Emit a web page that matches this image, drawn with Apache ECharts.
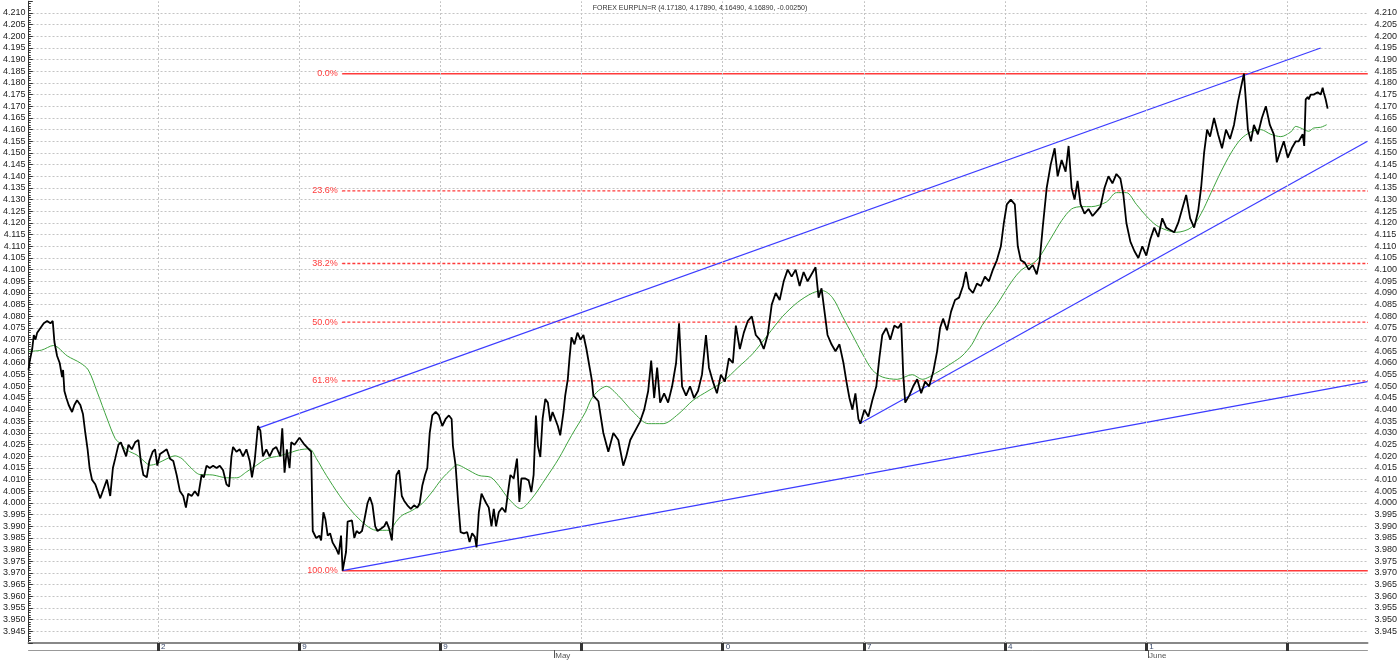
<!DOCTYPE html>
<html><head><meta charset="utf-8">
<script src="https://cdn.jsdelivr.net/npm/echarts@6/dist/echarts.min.js"></script>
<style>html,body{margin:0;padding:0;background:#fff}#c{width:1400px;height:660px}</style>
</head><body><div id="c"></div>
<script>
// time index (bar number) along x, week tick positions and labels
const weekTicks = [130, 271.7, 413.4, 555.1, 696.8, 838.5, 980.2, 1121.9, 1263.6];
const weekLabels = ['2', '9', '9', '', '0', '7', '4', '1', ''];
const monthTicks = [527.7, 1123.7];
const monthLabels = ['May', 'June'];
const titleText = 'FOREX EURPLN=R (4.17180, 4.17890, 4.16490, 4.16890, -0.00250)';

// price: [bar index, close]
const pricePts = [
[0,4.057],[1.3,4.061],[3.7,4.066],[5.3,4.072],[7,4.070],[8.7,4.073],[12,4.075],[15.3,4.077],[18.7,4.078],[22,4.077],[24.3,4.078],[26,4.069],[28.7,4.063],[31.3,4.060],[33.7,4.054],[34.7,4.057],[36,4.048],[38,4.045],[40.3,4.042],[43.7,4.039],[46,4.042],[48.7,4.044],[52,4.042],[54.7,4.038],[57,4.030],[59.3,4.023],[61.3,4.015],[63.7,4.010],[67,4.008],[70.3,4.004],[72,4.002],[75.3,4.006],[78.7,4.010],[82,4.003],[84.7,4.015],[87,4.019],[90.3,4.025],[92.7,4.026],[95.3,4.023],[98,4.020],[100.3,4.025],[103.7,4.023],[107,4.026],[110.3,4.027],[112.7,4.018],[115.3,4.012],[118.7,4.011],[121.3,4.018],[124.7,4.022],[127,4.023],[129.3,4.016],[132,4.021],[135.3,4.022],[138.7,4.023],[142,4.019],[145.3,4.018],[148.7,4.012],[152,4.005],[155.3,4.003],[158,3.998],[160.3,4.004],[163.7,4.003],[167,4.005],[170.3,4.003],[173.7,4.012],[176,4.011],[178.7,4.016],[182,4.015],[185.3,4.016],[188.7,4.015],[192,4.016],[195.3,4.014],[198.7,4.008],[201.3,4.007],[203.7,4.020],[205.3,4.024],[208.7,4.022],[212,4.023],[215.3,4.020],[218.7,4.023],[222,4.018],[224.3,4.011],[227,4.018],[230.3,4.033],[232.7,4.031],[235.3,4.020],[238.7,4.023],[242,4.020],[245.3,4.023],[248.7,4.024],[252.7,4.020],[254.7,4.032],[257,4.013],[259.3,4.023],[262,4.015],[263.7,4.026],[267,4.025],[270.3,4.027],[272,4.028],
[277,4.025],[283.7,4.022],[285.3,3.988],[288.7,3.985],[292,3.986],[293.7,3.984],[296,3.996],[298,3.993],[300.3,3.986],[302.7,3.987],[305.3,3.983],[308.7,3.9805],[311.3,3.978],[313.7,3.986],[315.3,3.971],[317,3.971],[318.7,3.979],[320.3,3.992],[322,3.992],[324.7,3.9925],[327,3.985],[329.3,3.988],[332,3.987],[334.7,3.988],[337,3.9925],[340.3,4.000],[342.7,4.0025],[345.3,3.999],[348,3.990],[350.3,3.988],[353.7,3.989],[357,3.990],[359.3,3.992],[362,3.989],[364.7,3.984],[367,3.999],[369.3,4.012],[372,4.014],[374.7,4.003],[377,4.001],[380.3,3.999],[383.7,3.9975],[387,3.999],[390.3,3.998],[392.7,4.000],[395.3,4.0075],[398,4.012],[400.3,4.015],[402.7,4.030],[405.3,4.0375],[408.7,4.039],[412,4.0375],[415.3,4.033],[418.7,4.036],[422,4.0375],[424.7,4.036],[426,4.0245],[428.7,4.016],[431.3,4.000],[433.7,3.9875],[437,3.987],[440.3,3.9875],[442.7,3.9833],[445.3,3.987],[448,3.9855],[449.7,3.981],[452,3.996],[454.7,4.004],[457,4.002],[459.3,4.000],[462,3.998],[464.7,3.990],[467,3.9975],[469.3,3.990],[472,3.996],[475.3,3.998],[478.7,3.996],[481.3,4.0047],[483.7,4.012],[487,4.0105],[490.3,4.019],[492.7,4.0005],[494.7,4.0105],[498.7,4.0105],[502,4.0097],[504.7,4.0047],[507,4.012],[509.3,4.0375],[511.3,4.0245],[513.7,4.0197],[516,4.036],[518.7,4.0445],[521.3,4.043],[523.7,4.035],[526,4.039],[528.7,4.036],[531.3,4.033],[533.7,4.029],[537,4.039],[538.7,4.046],[541.3,4.053],[543,4.062],[545,4.071],[548,4.068],[551,4.073],[554,4.070],[557,4.072],[560,4.066],[565.3,4.053],[567,4.046],[572,4.0436],
[577,4.030],[582,4.022],[587,4.030],[592,4.027],[597,4.016],[600,4.020],[604,4.027],[609,4.031],[614,4.035],[618,4.040],[622,4.048],[625,4.061],[628,4.045],[631,4.058],[634,4.043],[638,4.047],[642,4.043],[646,4.050],[650,4.060],[653,4.077],[656,4.050],[660,4.046],[664,4.050],[668,4.045],[672,4.048],[676,4.055],[680,4.072],[683,4.058],[687,4.052],[691,4.047],[695,4.055],[699,4.052],[703,4.062],[707,4.060],[710,4.076],[714,4.066],[718,4.073],[722,4.078],[726,4.080],[730,4.072],[734,4.070],[738,4.066],[742,4.072],[746,4.085],[750,4.090],[754,4.087],[758,4.095],[762,4.100],[766,4.097],[770,4.100],[774,4.093],[778,4.099],[782,4.095],[786,4.098],[790,4.101],[793,4.088],[796,4.092],[799,4.082],[802,4.072],[806,4.068],[810,4.065],[814,4.068],[818,4.060],[821,4.052],[824,4.045],[827,4.040],[830,4.047],[833,4.036],[835,4.034],[839,4.040],[843,4.037],[847,4.044],[851,4.050],[854,4.062],[857,4.072],[861,4.075],[865,4.070],[869,4.076],[873,4.075],[876,4.077],[878,4.055],[880,4.043],[884,4.046],[888,4.050],[892,4.053],[896,4.047],[900,4.052],[904,4.050],[908,4.056],[912,4.065],[915,4.075],[918,4.079],[922,4.074],[926,4.082],[930,4.087],[934,4.088],[938,4.093],[941,4.099],[944,4.092],[948,4.090],[952,4.094],[956,4.093],[960,4.097],[964,4.095],[968,4.100],[972,4.104],[976,4.110],[979,4.120],[982,4.128],[986,4.130],[990,4.128],[993,4.110],[996,4.104],[1000,4.103],[1004,4.100],[1008,4.102],[1012,4.098],[1015,4.104],[1018,4.118],[1022,4.135],[1026,4.145],[1030,4.152],[1033,4.140],[1037,4.147],[1041,4.142],[1044,4.153],[1047,4.135],[1050,4.130],[1053,4.138],[1056,4.128],[1060,4.124],[1064,4.126],[1068,4.123],[1072,4.125],[1076,4.127],[1080,4.135],[1084,4.140],[1088,4.137],[1092,4.141],[1096,4.139],[1099,4.132],[1102,4.120],[1106,4.112],[1110,4.108],[1114,4.105],[1118,4.110],[1122,4.106],[1126,4.113],[1130,4.118],[1134,4.114],[1138,4.122],[1142,4.118],[1146,4.117],[1150,4.116],[1154,4.120],[1158,4.126],[1162,4.132],[1166,4.122],[1170,4.118],[1174,4.125],[1177,4.135],[1180,4.150],[1183,4.160],[1186,4.157],[1190,4.165],[1194,4.158],[1198,4.152],[1202,4.160],[1206,4.156],[1210,4.162],[1214,4.172],[1217,4.178],[1220,4.184],[1222,4.172],[1224,4.160],[1227,4.155],[1230,4.162],[1234,4.158],[1238,4.165],[1242,4.170],[1246,4.162],[1250,4.158],[1253,4.146],[1256,4.150],[1260,4.155],[1264,4.148],[1268,4.152],[1272,4.155],[1275,4.155],[1279,4.158],[1280.5,4.153],[1282,4.173],[1284,4.174],[1285,4.173],[1287,4.175],[1290,4.175],[1294,4.176],[1297,4.175],[1299,4.178],[1300,4.176],[1302,4.173],[1304,4.169]
];

// moving average: [bar index, value]
const maPts = [
[0,4.065],[13,4.0655],[25,4.0675],[39,4.063],[52,4.060],[60,4.057],[69,4.0475],[79,4.036],[87,4.0276],[92,4.0255],[99,4.0226],[109,4.0205],[115,4.0183],[122,4.0162],[129,4.0169],[139,4.019],[147,4.0202],[154,4.019],[162,4.0155],[172,4.0122],[185,4.012],[199,4.0108],[209,4.0108],[219,4.0134],[229,4.0162],[239,4.019],[252,4.0202],[265,4.0219],[272,4.0228],[282,4.0232],[289,4.019],[299,4.0118],[312,4.0033],[325,3.9962],[339,3.9904],[349,3.9883],[362,3.9883],[369,3.992],[375,3.9947],[385,3.9968],[395,3.9997],[405,4.0047],[415,4.0104],[425,4.0147],[430,4.0164],[439,4.0147],[452,4.0118],[464,4.011],[472,4.0075],[482,4.0018],[494,3.9976],[505,4.0018],[519,4.0104],[532,4.0189],[545,4.0289],[559,4.0389],[565,4.0446],[572,4.0481],
[580,4.050],[592,4.046],[607,4.039],[622,4.034],[637,4.034],[652,4.038],[667,4.044],[682,4.048],[697,4.052],[712,4.058],[727,4.064],[742,4.072],[757,4.080],[772,4.086],[787,4.090],[797,4.091],[807,4.088],[817,4.080],[827,4.072],[837,4.064],[847,4.057],[857,4.054],[872,4.053],[887,4.055],[897,4.053],[912,4.056],[927,4.060],[937,4.063],[947,4.068],[957,4.076],[972,4.085],[987,4.095],[997,4.100],[1012,4.104],[1027,4.114],[1037,4.121],[1047,4.126],[1057,4.127],[1067,4.127],[1082,4.129],[1092,4.133],[1102,4.133],[1112,4.128],[1122,4.123],[1132,4.119],[1142,4.117],[1152,4.116],[1167,4.118],[1177,4.124],[1187,4.133],[1197,4.142],[1207,4.150],[1217,4.156],[1227,4.159],[1237,4.160],[1247,4.158],[1257,4.157],[1267,4.159],[1272,4.1614],[1277,4.1607],[1285,4.1593],[1290,4.1607],[1297,4.161],[1303,4.1621]
];

// drawn trend lines: [[x0,y0],[x1,y1]]
const channelUpper = [[230, 4.032], [1297, 4.195]];
const channelLower = [[315, 3.971], [1344, 4.052]];
const supportLine = [[834, 4.034], [1344, 4.155]];

// Fibonacci retracement
const fibHigh = 4.184, fibLow = 3.971;
const fibLevels = [0, 23.6, 38.2, 50, 61.8, 100];
const fibStart = 315, fibEnd = 1344;

const chart = echarts.init(document.getElementById('c'), null, {renderer: 'canvas'});
const FONT = 'Liberation Sans, Arial, sans-serif';
const RED = '#ff3b3b', BLUE = '#3c3cff';
const gridDash = {color: '#c4c4c4', width: 1, type: [2, 2]};

const fibSeries = fibLevels.map(l => {
  const v = fibHigh - l / 100 * (fibHigh - fibLow);
  const solid = (l === 0 || l === 100);
  return {
    type: 'line', xAxisIndex: 0, yAxisIndex: 0, z: 2, silent: true,
    symbol: 'circle', symbolSize: 1, showSymbol: true,
    itemStyle: {color: RED},
    lineStyle: {color: RED, width: solid ? 1.5 : 1.3, type: solid ? 'solid' : [3, 2]},
    data: [
      {value: [fibStart, v], label: {show: true, position: 'left', distance: 4, formatter: l.toFixed(1) + '%', color: RED, fontSize: 9, fontFamily: FONT}},
      {value: [fibEnd, v], label: {show: false}}
    ]
  };
});

const trend = pts => ({type: 'line', z: 3, silent: true, showSymbol: false, symbol: 'none',
  lineStyle: {color: BLUE, width: 1.2}, data: pts});

const yFmt = v => (Math.abs(v - 3.94) < 1e-6 || Math.abs(v - 4.215) < 1e-6) ? '' : v.toFixed(3);
const yBase = {
  type: 'value', min: 3.940, max: 4.215, interval: 0.005,
  splitLine: {show: false},
  minorTick: {show: true, splitNumber: 5, length: 2, lineStyle: {color: '#333'}},
  axisLine: {show: true, lineStyle: {color: '#333', width: 1}},
};

chart.setOption({
  animation: false,
  backgroundColor: '#fff',
  title: {text: titleText, left: 'center', top: 0, textStyle: {fontSize: 7, fontWeight: 'normal', color: '#333', fontFamily: FONT}},
  grid: {left: 28, right: 28, top: 1.3, bottom: 15, containLabel: false},
  xAxis: [
    {type: 'value', min: 0, max: 1344, position: 'bottom',
     axisLine: {show: true, onZero: false, lineStyle: {color: '#888', width: 2}},
     axisTick: {show: true, customValues: weekTicks, length: 8, inside: false, lineStyle: {color: '#333', width: 3}},
     axisLabel: {show: true, customValues: weekTicks, margin: 0, align: 'left', padding: [0, 0, 0, 3],
       fontSize: 8, color: '#3b4a6b', fontFamily: FONT,
       formatter: v => { const i = weekTicks.findIndex(w => Math.abs(w - v) < 0.01); return i >= 0 ? weekLabels[i] : ''; }},
     splitLine: {show: false}},
    {type: 'value', min: 0, max: 1344, position: 'bottom', offset: 7,
     axisLine: {show: true, onZero: false, lineStyle: {color: '#999', width: 1}},
     axisTick: {show: true, customValues: monthTicks, length: 8, lineStyle: {color: '#555', width: 1}},
     axisLabel: {show: true, customValues: monthTicks, margin: 2, align: 'left', padding: [0, 0, 0, 1],
       fontSize: 8, color: '#555', fontFamily: FONT,
       formatter: v => { const i = monthTicks.findIndex(w => Math.abs(w - v) < 0.01); return i >= 0 ? monthLabels[i] : ''; }},
     splitLine: {show: false}}
  ],
  yAxis: [
    Object.assign({}, yBase, {position: 'left',
      splitLine: {show: true, showMinLine: false, showMaxLine: false, lineStyle: gridDash},
      axisTick: {show: true, inside: true, length: 4, lineStyle: {color: '#333'}},
      minorTick: {show: true, splitNumber: 5, length: 2, lineStyle: {color: '#333'}},
      axisLabel: {formatter: yFmt, fontSize: 9, color: '#222', margin: 3, fontFamily: FONT}}),
    Object.assign({}, yBase, {position: 'right',
      axisTick: {show: true, inside: false, length: 4, lineStyle: {color: '#333'}},
      axisLabel: {formatter: yFmt, fontSize: 9, color: '#222', margin: 7, fontFamily: FONT}})
  ],
  series: [
    ...fibSeries,
    trend(channelUpper), trend(channelLower), trend(supportLine),
    {type: 'line', name: 'MA', z: 4, silent: true, showSymbol: false, smooth: 0.3,
     lineStyle: {color: '#3fa33f', width: 1}, data: maPts,
     markLine: {silent: true, symbol: ['none', 'none'], label: {show: false}, lineStyle: gridDash,
       data: weekTicks.map(w => ({xAxis: w}))}},
    {type: 'line', name: 'EURPLN', z: 5, silent: true, showSymbol: false,
     lineStyle: {color: '#000', width: 1.8}, data: pricePts}
  ]
});
</script></body></html>
